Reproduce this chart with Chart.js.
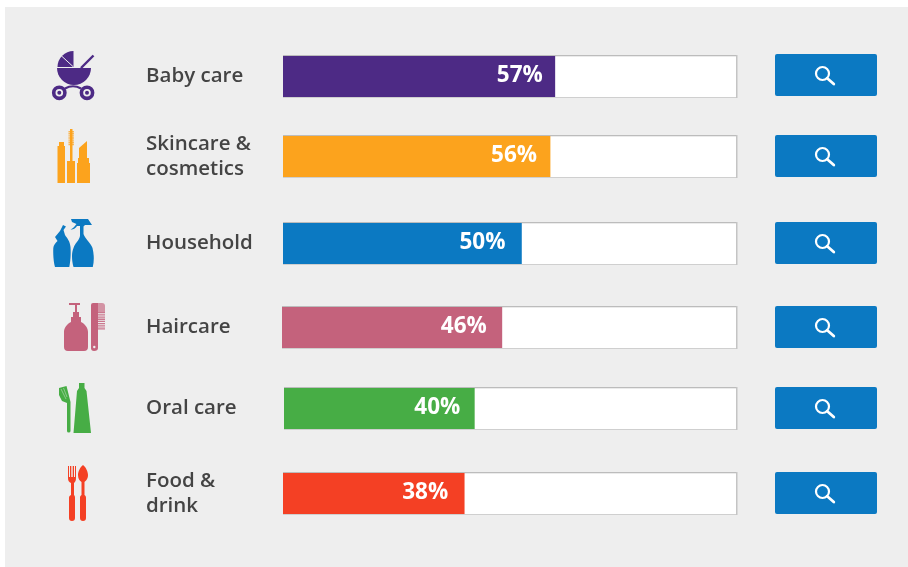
<!DOCTYPE html>
<html>
<head>
<meta charset="utf-8">
<title>Category shares</title>
<script src="https://cdn.jsdelivr.net/npm/chart.js@4"></script>
<style>
    html, body { margin: 0; padding: 0; width: 908px; height: 567px; overflow: hidden; background: #fff; }
    #panel { position: absolute; left: 5px; top: 7px; width: 903px; height: 560px; background: #eeeeee; }
    #icons { position: absolute; left: 0; top: 0; }
    canvas { position: absolute; }
    .search {
        position: absolute; left: 775px; width: 102px; height: 41.5px;
        background: #0b79c2; border-radius: 2px;
    }
    .search svg { display: block; }
</style>
</head>
<body>
<div id="panel"></div>
<svg id="icons" width="908" height="567" viewBox="0 0 908 567">
    <!-- pram -->
    <g fill="#4d2a85">
        <path d="M73.5 67 L73.5 51 A16 16 0 0 0 57.5 67 Z"/>
        <path d="M57 68 L91 68 A17 17 0 0 1 57 68 Z"/>
        <path d="M81 68 L93.5 55.5" stroke="#4d2a85" stroke-width="2.4" fill="none"/>
        <path d="M61 55.5 L73.5 67" stroke="#eeeeee" stroke-width="1" fill="none"/>
        <path d="M65 88.5 Q73 84 81 88.5" stroke="#4d2a85" stroke-width="2.2" fill="none"/>
        <circle cx="59.3" cy="92.8" r="5.6" fill="none" stroke="#4d2a85" stroke-width="3.6"/>
        <circle cx="87" cy="92.8" r="5.6" fill="none" stroke="#4d2a85" stroke-width="3.6"/>
        <circle cx="59.3" cy="92.8" r="2"/>
        <circle cx="87" cy="92.8" r="2"/>
    </g>
    <!-- mascara and lipstick -->
    <g fill="#fca31d">
        <path d="M59 146 V142 H64 V146 H65 V183 H57.5 V146 Z"/>
        <path d="M70 161 V129 H72.5 V161 H75 V183 H67 V161 Z"/>
        <path d="M71.2 131 V146" stroke="#fca31d" stroke-width="5.5" stroke-dasharray="1.4 0.7" fill="none" opacity="0.75"/>
        <path d="M79 158 V148 L87 141 V158 H89 V163 H90 V183 H77 V163 H78 V158 Z"/>
    </g>
    <!-- cleaning bottles -->
    <g fill="#0b79c2">
        <path d="M63 225 L66 226.5 L63.5 230 L65 235 C67 238 70 241 70.5 247 C71 254 70.5 261 69.3 267 H55 C53.5 262 53 254 53.3 248 C53.5 245 55.5 243 57.5 241 L55 237 L60 231 Z"/>
        <path d="M71 219 H88 L92 225 H85 L83.5 226.5 V234 C85 239 91 243 92.5 248 C94 254 94.3 261 92.8 267 H73.5 C71.7 261 71.3 253 73.5 248 C75 243 79 241 80 236 V226 L77 226 C76 228 73 230 70.5 229.5 C73 228.5 75 226 76.5 224 L72 222 Z"/>
    </g>
    <!-- pump bottle and comb -->
    <g fill="#c4627c">
        <path d="M69 303 H80 V305 H77 V312 H79 V317 H81 V322 C85 324 88 328 88 332 V347 Q88 351 84 351 H68 Q64 351 64 347 V332 C64 328 67 324 71 322 V317 H73 V312 H75 V305 H69 Z"/>
        <path d="M93 303 H98 V348 Q98 351 94 351 Q91 351 91 348 V305 Q91 303 93 303 Z"/>
        <path d="M98 303 H102 Q105 303 105 306 V312 H98 Z" opacity="0.65"/>
        <path d="M101.5 312 V330" stroke="#c4627c" stroke-width="7" stroke-dasharray="1.3 0.9" fill="none" opacity="0.85"/>
        <circle cx="94.3" cy="347" r="1.2" fill="#eeeeee"/>
    </g>
    <!-- toothbrush and tube -->
    <g fill="#47ad45">
        <path d="M59 388 L66.5 386 L70.5 402 V431 Q70.5 432.5 68.7 432.5 Q67 432.5 67 431 V403 L62 401 L59 395 Z"/>
        <path d="M61 389 L66 399 M63.5 388 L67 397" stroke="#eeeeee" stroke-width="0.6" fill="none" opacity="0.7"/>
        <path d="M79 383 H84.5 V388 L86.5 391 L91 433 H73.5 L77 391 L79 388 Z"/>
    </g>
    <!-- fork and spoon -->
    <g fill="#f44024">
        <path d="M68 466 H69 V477 H70 V466 H71.3 V477 H72.7 V466 H74 V477 H75 V466 H76 V478 C76 481 75 482 74 483 V495 C75 496 75 497 75 498 V518 Q75 521 72 521 Q69 521 69 518 V498 C69 497 69 496 71 495 V483 C69 482 68 481 68 478 Z"/>
        <path d="M83 465 C86 467 88 472 88 475 C88 479 85.5 481 84.5 482 V495 C86 496 86 497 86 498 V518 Q86 521 83 521 Q80 521 80 518 V498 C80 497 80 496 81.5 495 V482 C80 481 78 479 78 475 C78 472 80 467 83 465 Z"/>
    </g>
</svg>

<script>
// Share of shoppers per category
const categories = [
    ['Baby care'],
    ['Skincare &', 'cosmetics'],
    ['Household'],
    ['Haircare'],
    ['Oral care'],
    ['Food &', 'drink']
];
const shares = [57, 56, 50, 46, 40, 38];
const barColors = ['#4d2a85', '#fca31d', '#0b79c2', '#c4627c', '#47ad45', '#f44024'];

// rows are not evenly spaced, top of each bar and button on the page
const rowTops = [56, 136, 223, 307, 388, 473];
const buttonTops = [54, 135, 222, 306, 387, 472];
const rowShifts = [0, 0, 0, -1, 1, 0];
const labelGaps = [12, 13, 16, 15, 14, 16];
const axisMax = 95.2;

// white track with a thin grey edge behind the bar
const trackPlugin = {
    id: 'track',
    beforeDatasetsDraw(chart) {
        const { ctx, chartArea: a } = chart;
        ctx.save();
        ctx.fillStyle = '#ffffff';
        ctx.fillRect(a.left, a.top, a.width, a.height);
        ctx.fillStyle = '#bcbcbc';
        ctx.fillRect(a.left, a.top - 1, a.width, 1.3);
        ctx.fillStyle = '#cfcfcf';
        ctx.fillRect(a.left, a.bottom, a.width, 1);
        ctx.fillStyle = '#c4c4c4';
        ctx.fillRect(a.right - 1, a.top - 1, 1.5, a.height + 2);
        ctx.restore();
    }
};

// percentage printed inside the end of the bar
const valueLabelPlugin = {
    id: 'valueLabel',
    afterDatasetsDraw(chart, args, opts) {
        const { ctx } = chart;
        const bar = chart.getDatasetMeta(0).data[0];
        ctx.save();
        ctx.fillStyle = '#ffffff';
        ctx.font = '700 22.5px "Open Sans"';
        ctx.textAlign = 'right';
        ctx.textBaseline = 'middle';
        ctx.fillText(chart.data.datasets[0].data[0] + '%', bar.x - opts.gap, bar.y - 1);
        ctx.restore();
    }
};

function createRow(i) {
    const canvas = document.createElement('canvas');
    canvas.width = 600;
    canvas.height = 71;
    canvas.style.left = (140 + rowShifts[i]) + 'px';
    canvas.style.top = (rowTops[i] - 15) + 'px';
    document.body.appendChild(canvas);

    new Chart(canvas.getContext('2d'), {
        type: 'bar',
        plugins: [trackPlugin, valueLabelPlugin],
        data: {
            labels: [categories[i]],
            datasets: [{
                data: [shares[i]],
                backgroundColor: barColors[i],
                barThickness: 41
            }]
        },
        options: {
            indexAxis: 'y',
            responsive: false,
            animation: false,
            layout: { padding: { left: 143, right: 3 + rowShifts[i], top: 15, bottom: 15 } },
            plugins: {
                legend: { display: false },
                tooltip: { enabled: false },
                valueLabel: { gap: labelGaps[i] }
            },
            scales: {
                x: { display: false, min: 0, max: axisMax },
                y: {
                    grid: { display: false },
                    border: { display: false },
                    afterFit(axis) { axis.width = 0; },
                    ticks: {
                        mirror: true,
                        padding: -137 - rowShifts[i],
                        color: '#444444',
                        font: { family: '"Open Sans"', size: 20.5, weight: '600', lineHeight: 1.22 }
                    }
                }
            }
        }
    });

    const button = document.createElement('div');
    button.className = 'search';
    button.style.top = buttonTops[i] + 'px';
    button.innerHTML = '<svg width="102" height="41.5"><circle cx="47.5" cy="19.5" r="6.5" fill="none" stroke="#fff" stroke-width="2.2"/>' +
        '<path d="M52.2 24.2 L58.8 30" stroke="#fff" stroke-width="2.8" stroke-linecap="round"/></svg>';
    document.body.appendChild(button);
}

document.fonts.load('600 20px "Open Sans"').then(() => document.fonts.load('700 22px "Open Sans"')).finally(() => {
    categories.forEach((_, i) => createRow(i));
});
</script>
</body>
</html>
